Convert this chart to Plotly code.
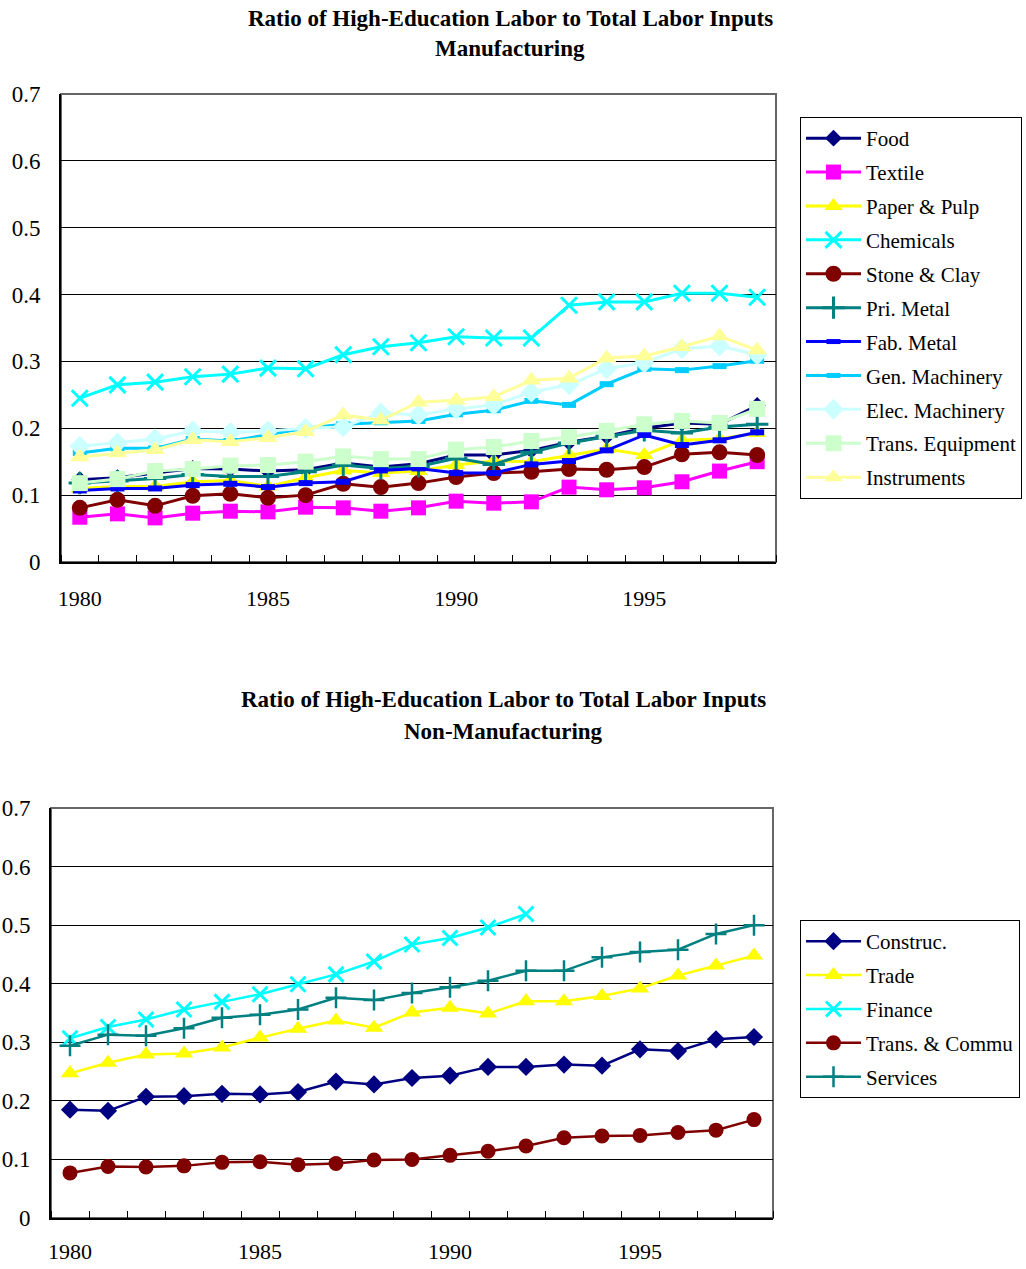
import plotly.graph_objects as go

# ---- data -------------------------------------------------------------
years = list(range(1980, 1999))
year_labels = ["1980", "1985", "1990", "1995"]
year_label_pos = [1980, 1985, 1990, 1995]

# Manufacturing industries
food = [0.123, 0.126, 0.133, 0.140, 0.139, 0.136, 0.138, 0.148, 0.142, 0.147,
        0.160, 0.160, 0.167, 0.179, 0.188, 0.200, 0.208, 0.206, 0.234]
textile = [0.067, 0.072, 0.066, 0.073, 0.076, 0.075, 0.082, 0.081, 0.076, 0.081,
           0.091, 0.088, 0.090, 0.112, 0.108, 0.111, 0.120, 0.136, 0.150]
paper_pulp = [0.110, 0.113, 0.113, 0.120, 0.122, 0.113, 0.126, 0.137, 0.133, 0.136,
              0.145, 0.151, 0.150, 0.160, 0.169, 0.160, 0.182, 0.184, 0.193]
chemicals = [0.245, 0.265, 0.269, 0.277, 0.281, 0.290, 0.289, 0.310, 0.322, 0.328,
             0.337, 0.335, 0.335, 0.384, 0.389, 0.389, 0.402, 0.402, 0.396]
stone_clay = [0.081, 0.093, 0.084, 0.099, 0.102, 0.096, 0.100, 0.117, 0.112, 0.118,
              0.127, 0.133, 0.135, 0.139, 0.138, 0.142, 0.161, 0.164, 0.160]
pri_metal = [0.118, 0.121, 0.125, 0.131, 0.128, 0.128, 0.135, 0.145, 0.140, 0.143,
             0.155, 0.146, 0.164, 0.178, 0.188, 0.197, 0.193, 0.202, 0.206]
fab_metal = [0.107, 0.110, 0.110, 0.115, 0.117, 0.112, 0.118, 0.120, 0.137, 0.140,
             0.133, 0.133, 0.146, 0.151, 0.167, 0.190, 0.175, 0.182, 0.194]
gen_machinery = [0.163, 0.170, 0.170, 0.184, 0.181, 0.191, 0.200, 0.206, 0.209, 0.211,
                 0.221, 0.227, 0.241, 0.235, 0.266, 0.289, 0.287, 0.293, 0.301]
elec_machinery = [0.173, 0.178, 0.184, 0.196, 0.194, 0.196, 0.200, 0.202, 0.223, 0.220,
                  0.229, 0.235, 0.254, 0.265, 0.289, 0.298, 0.319, 0.323, 0.310]
trans_equipment = [0.118, 0.124, 0.136, 0.139, 0.144, 0.145, 0.150, 0.158, 0.154, 0.154,
                   0.168, 0.172, 0.181, 0.187, 0.196, 0.206, 0.211, 0.208, 0.229]
instruments = [0.157, 0.163, 0.168, 0.183, 0.180, 0.186, 0.195, 0.220, 0.212, 0.239,
               0.242, 0.247, 0.272, 0.275, 0.305, 0.308, 0.322, 0.338, 0.317]

# Non-manufacturing industries
construc = [0.185, 0.183, 0.207, 0.208, 0.212, 0.211, 0.215, 0.233, 0.228, 0.239,
            0.243, 0.258, 0.258, 0.262, 0.260, 0.288, 0.285, 0.305, 0.309]
trade = [0.247, 0.265, 0.279, 0.281, 0.291, 0.308, 0.323, 0.337, 0.325, 0.351,
         0.359, 0.349, 0.370, 0.370, 0.379, 0.392, 0.414, 0.431, 0.448]
finance = [0.307, 0.326, 0.339, 0.356, 0.369, 0.382, 0.399, 0.416, 0.438, 0.467,
           0.478, 0.496, 0.519, None, None, None, None, None, None]
trans_commu = [0.077, 0.088, 0.087, 0.089, 0.095, 0.096, 0.091, 0.093, 0.099, 0.100,
               0.107, 0.114, 0.123, 0.137, 0.140, 0.141, 0.146, 0.150, 0.168]
services = [0.294, 0.313, 0.311, 0.324, 0.342, 0.347, 0.356, 0.376, 0.372, 0.384,
            0.394, 0.405, 0.422, 0.422, 0.445, 0.454, 0.458, 0.485, 0.500]

# ---- styling ----------------------------------------------------------
W, H = 1026, 1269
SERIF = "Liberation Serif, Times New Roman, serif"

manuf_series = [
    ("Food", food, "#000080", "diamond", 13, 0),
    ("Textile", textile, "#FF00FF", "square", 15, 0),
    ("Paper & Pulp", paper_pulp, "#FFFF00", "triangle-up", 16, 0),
    ("Chemicals", chemicals, "#00FFFF", "x-thin-open", 16, 3),
    ("Stone & Clay", stone_clay, "#800000", "circle", 16, 0),
    ("Pri. Metal", pri_metal, "#008080", "cross-thin-open", 16, 3),
    ("Fab. Metal", fab_metal, "#0000FF", "line-ew-open", 10, 6),
    ("Gen. Machinery", gen_machinery, "#00CCFF", "line-ew-open", 10, 6),
    ("Elec. Machinery", elec_machinery, "#CCFFFF", "diamond", 16, 0),
    ("Trans. Equipment", trans_equipment, "#CCFFCC", "square", 16, 0),
    ("Instruments", instruments, "#FFFF99", "triangle-up", 17, 0),
]

nonmanuf_series = [
    ("Construc.", construc, "#000080", "diamond", 14, 0),
    ("Trade", trade, "#FFFF00", "triangle-up", 16, 0),
    ("Finance", finance, "#00FFFF", "x-thin-open", 15, 3),
    ("Trans. & Commu", trans_commu, "#800000", "circle", 15, 0),
    ("Services", services, "#008080", "cross-thin-open", 15, 2.5),
]


def px_x(v):
    return v / W


def px_y(v):
    return 1 - v / H


fig = go.Figure()


def add_series(series, xa, ya, legend, lw):
    for name, vals, color, sym, size, mlw in series:
        marker = dict(symbol=sym, size=size, color=color)
        if mlw:
            marker["line"] = dict(color=color, width=mlw)
        else:
            marker["line"] = dict(width=0)
        fig.add_trace(go.Scatter(
            x=years, y=vals, name=name, mode="lines+markers",
            line=dict(color=color, width=lw), marker=marker,
            xaxis=xa, yaxis=ya, legend=legend, legendgroup=legend + name,
            connectgaps=False,
        ))


add_series(manuf_series, "x", "y", "legend", 3)
add_series(nonmanuf_series, "x2", "y2", "legend2", 2.5)

tick_bounds = [y - 0.5 for y in years] + [years[-1] + 0.5]


def xaxis_cfg(domain, anchor, standoff):
    return dict(
        domain=domain, anchor=anchor, range=[years[0] - 0.5, years[-1] + 0.5],
        tickmode="array", tickvals=year_label_pos, ticktext=year_labels,
        ticks="", showgrid=False, zeroline=False, automargin=False,
        showline=True, linecolor="black", linewidth=2,
        tickfont=dict(family=SERIF, size=22, color="black"),
        ticklabelstandoff=standoff,
        minor=dict(tickmode="array", tickvals=tick_bounds, ticks="inside",
                   ticklen=7, tickwidth=1, tickcolor="black", showgrid=False),
    )


def yaxis_cfg(domain, anchor):
    return dict(
        domain=domain, anchor=anchor, range=[0, 0.7], dtick=0.1, tick0=0,
        showgrid=True, gridcolor="black", gridwidth=1, zeroline=False,
        showline=True, linecolor="black", linewidth=2, ticks="",
        automargin=False,
        tickfont=dict(family=SERIF, size=23, color="black"),
        ticklabelstandoff=14,
    )


top_xd = [px_x(61), px_x(776)]
top_yd = [px_y(562), px_y(94)]
bot_xd = [px_x(51), px_x(773)]
bot_yd = [px_y(1218), px_y(808)]

legend_common = dict(
    xanchor="left", yanchor="top", bgcolor="white",
    bordercolor="black", borderwidth=1,
    font=dict(family=SERIF, size=21, color="black"),
    itemwidth=55, tracegroupgap=3.6, traceorder="grouped",
)

fig.update_layout(
    width=W, height=H, margin=dict(l=0, r=0, t=0, b=0, autoexpand=False),
    paper_bgcolor="white", plot_bgcolor="white",
    xaxis=xaxis_cfg(top_xd, "y", 16), yaxis=yaxis_cfg(top_yd, "x"),
    xaxis2=xaxis_cfg(bot_xd, "y2", 13), yaxis2=yaxis_cfg(bot_yd, "x2"),
    legend=dict(x=px_x(800), y=px_y(117), **legend_common),
    legend2=dict(x=px_x(800), y=px_y(920), **legend_common),
    showlegend=True,
)

# gray frame around each plot area
for xd, yd in [(top_xd, top_yd), (bot_xd, bot_yd)]:
    fig.add_shape(type="rect", xref="paper", yref="paper",
                  x0=xd[0], x1=xd[1], y0=yd[0], y1=yd[1],
                  line=dict(color="#666666", width=2), layer="below")

# chart titles
titles = [
    ("Ratio of High-Education Labor to Total Labor Inputs", 510, 18),
    ("Manufacturing", 510, 48),
    ("Ratio of High-Education Labor to Total Labor Inputs", 503, 699),
    ("Non-Manufacturing", 503, 731),
]
for text, cx, cy in titles:
    fig.add_annotation(text=f"<b>{text}</b>", xref="paper", yref="paper",
                       x=px_x(cx), y=px_y(cy), xanchor="center", yanchor="middle",
                       showarrow=False,
                       font=dict(family=SERIF, size=23, color="black"))

fig.write_html("out.html")
